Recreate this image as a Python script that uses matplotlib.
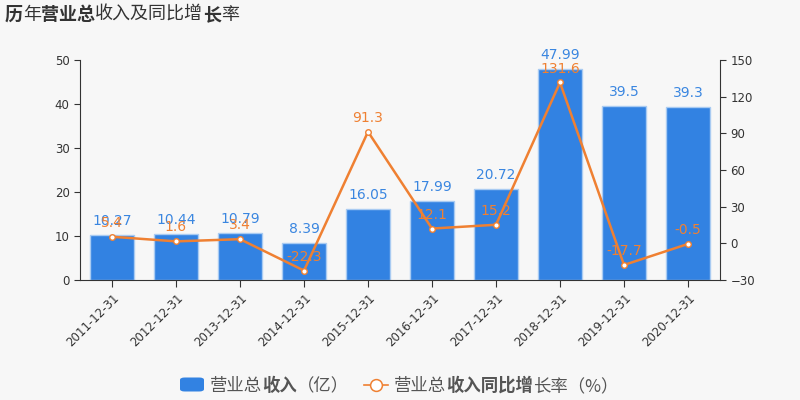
import matplotlib
matplotlib.use("Agg")
import matplotlib.pyplot as plt
from matplotlib.patches import FancyBboxPatch
from matplotlib.lines import Line2D

plt.rcParams['font.family'] = ['DejaVu Sans', 'Noto Sans CJK SC']

categories = ["2011-12-31", "2012-12-31", "2013-12-31", "2014-12-31", "2015-12-31",
              "2016-12-31", "2017-12-31", "2018-12-31", "2019-12-31", "2020-12-31"]
revenue = [10.27, 10.44, 10.79, 8.39, 16.05, 17.99, 20.72, 47.99, 39.5, 39.3]
growth = [5.4, 1.6, 3.4, -22.3, 91.3, 12.1, 15.2, 131.6, -17.7, -0.5]
revenue_labels = ["10.27", "10.44", "10.79", "8.39", "16.05", "17.99", "20.72", "47.99", "39.5", "39.3"]
growth_labels = ["5.4", "1.6", "3.4", "-22.3", "91.3", "12.1", "15.2", "131.6", "-17.7", "-0.5"]
left_ticks = [0, 10, 20, 30, 40, 50]
right_ticks = [-30, 0, 30, 60, 90, 120, 150]

BG = "#f7f7f7"
BLUE = "#3282e2"
BLUE_TXT = "#3a86e0"
ORANGE = "#ef8032"
AXC = "#333333"

fig = plt.figure(figsize=(8, 4), dpi=100, facecolor=BG)
ax = fig.add_axes([0.1, 0.3, 0.8, 0.55], facecolor=BG)
x = list(range(len(categories)))

ax.bar(x, revenue, width=0.7, color=BLUE, edgecolor="#a9cbf2", linewidth=1.0, zorder=2)
ax.set_xlim(-0.5, len(categories) - 0.5)
ax.set_ylim(0, 50)
ax.set_yticks(left_ticks)
ax.set_xticks(x)
ax.set_xticklabels(categories, rotation=45, ha="right", rotation_mode="anchor", fontsize=8.5, color=AXC)
ax.tick_params(axis='y', labelsize=8.5, colors=AXC, length=4, direction='out')
ax.tick_params(axis='x', length=5, colors=AXC, pad=3)
for s in ["top", "right"]:
    ax.spines[s].set_visible(False)
ax.spines["left"].set_color(AXC)
ax.spines["bottom"].set_color(AXC)
for xi, v, lab in zip(x, revenue, revenue_labels):
    ax.annotate(lab, (xi, v), xytext=(0, 5), textcoords="offset points", ha="center", va="bottom",
                fontsize=10, color=BLUE_TXT, zorder=5)

ax2 = ax.twinx()
ax2.set_ylim(-30, 150)
ax2.set_yticks(right_ticks)
ax2.plot(x, growth, color=ORANGE, linewidth=1.8, marker="o", markersize=4,
         markerfacecolor="white", markeredgecolor=ORANGE, markeredgewidth=1.0, zorder=3)
ax2.tick_params(axis='y', labelsize=8.5, colors=AXC, length=4, direction='out')
for s in ["top", "left", "bottom"]:
    ax2.spines[s].set_visible(False)
ax2.spines["right"].set_color(AXC)
for xi, v, lab in zip(x, growth, growth_labels):
    ax2.annotate(lab, (xi, v), xytext=(0, 5), textcoords="offset points", ha="center", va="bottom",
                 fontsize=10, color=ORANGE, zorder=5)

# Title with mixed weight
cjk = ['Noto Sans CJK SC', 'DejaVu Sans']
title_parts = [("历", "bold"), ("年", "normal"), ("营业总", "bold"), ("收入及同比增", "normal"),
               ("长", "bold"), ("率", "normal")]
renderer = fig.canvas.get_renderer()
xpos = 5
for txt, w in title_parts:
    t = fig.text(xpos / 800, 1 - 20 / 400, txt, fontsize=13, fontweight=w, family=cjk,
                 color="#333333", ha="left", va="baseline")
    bb = t.get_window_extent(renderer=renderer)
    xpos += bb.width

# Legend drawn manually
leg_y = 1 - 385 / 400
leg_base = 1 - 391 / 400
patch = FancyBboxPatch((180 / 800, leg_y - 6.5 / 400), 24 / 800, 14 / 400,
                       boxstyle="round,pad=0,rounding_size=0.006", transform=fig.transFigure,
                       facecolor=BLUE, edgecolor="none")
fig.patches.append(patch)
xpos = 210
for txt, w in [("营业总", "normal"), ("收入", "bold"), ("（亿）", "normal")]:
    t = fig.text(xpos / 800, leg_base, txt, fontsize=12.5, fontweight=w, family=cjk, color="#555555",
                 ha="left", va="baseline")
    xpos += t.get_window_extent(renderer=renderer).width
fig.lines.append(Line2D([364 / 800, 388 / 800], [leg_y, leg_y], transform=fig.transFigure,
                        color=ORANGE, linewidth=1.2))
fig.lines.append(Line2D([376 / 800], [leg_y], transform=fig.transFigure, marker="o", markersize=8.5,
                        markerfacecolor="white", markeredgecolor=ORANGE, markeredgewidth=1.1,
                        linestyle="none"))
xpos = 394
for txt, w in [("营业总", "normal"), ("收入同比增", "bold"), ("长率（%）", "normal")]:
    t = fig.text(xpos / 800, leg_base, txt, fontsize=12.5, fontweight=w, family=cjk, color="#555555",
                 ha="left", va="baseline")
    xpos += t.get_window_extent(renderer=renderer).width

fig.savefig("out.png", dpi=100, facecolor=BG)
